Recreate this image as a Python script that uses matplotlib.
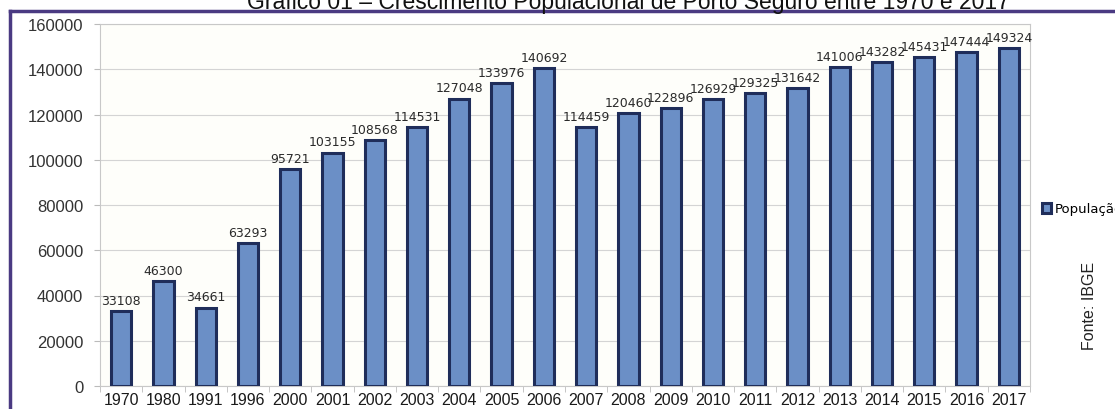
import matplotlib
matplotlib.use("Agg")
import matplotlib.pyplot as plt
from matplotlib.lines import Line2D
from matplotlib.ticker import FixedLocator

anos = ['1970', '1980', '1991', '1996', '2000', '2001', '2002', '2003', '2004',
        '2005', '2006', '2007', '2008', '2009', '2010', '2011', '2012', '2013',
        '2014', '2015', '2016', '2017']
populacao = [33108, 46300, 34661, 63293, 95721, 103155, 108568, 114531, 127048,
             133976, 140692, 114459, 120460, 122896, 126929, 129325, 131642,
             141006, 143282, 145431, 147444, 149324]
y_ticks = [0, 20000, 40000, 60000, 80000, 100000, 120000, 140000, 160000]

W, H = 1115, 410
fig = plt.figure(figsize=(W / 100, H / 100), dpi=100)
fig.patch.set_facecolor('white')

ax = fig.add_axes([100 / W, 1 - 387 / H, 930 / W, 362 / H])
ax.set_facecolor('#fefefa')

x = list(range(len(anos)))
bars = ax.bar(x, populacao, width=0.48, color='#6b8fc6', edgecolor='#1f2d5a',
              linewidth=2.2, label='População', zorder=3)

for xi, v in zip(x, populacao):
    ax.annotate(str(v), (xi, v), xytext=(0, 3), textcoords='offset points',
                ha='center', va='bottom', fontsize=9, color='#2a2a2a',
                family='DejaVu Sans')

ax.set_xlim(-0.5, len(anos) - 0.5)
ax.set_ylim(0, 160000)
ax.set_yticks(y_ticks)
ax.set_yticklabels([str(t) for t in y_ticks], family='Liberation Sans',
                   fontsize=12, color='#333333')
ax.set_xticks(x)
ax.set_xticklabels(anos, family='Liberation Sans', fontsize=11.5, color='#1a1a1a')
ax.xaxis.set_minor_locator(FixedLocator([i + 0.5 for i in range(-1, len(anos))]))
ax.tick_params(axis='x', which='major', length=0, pad=4)
ax.tick_params(axis='x', which='minor', length=4, color='#bbbbbb')
ax.tick_params(axis='y', length=4, color='#bbbbbb', pad=8)

ax.grid(axis='y', color='#d4d4d4', linewidth=0.8, zorder=0)
for s in ax.spines.values():
    s.set_color('#c8c8c8')
    s.set_linewidth(0.8)

fig.legend(handles=[bars], labels=['População'], loc='center left',
           bbox_to_anchor=(1030 / W, 1 - 210 / H), frameon=False,
           handlelength=0.7, handleheight=0.7, handletextpad=0.3,
           prop={'family': 'DejaVu Sans', 'size': 9.5})

fig.text(1090 / W, 1 - 306 / H, 'Fonte: IBGE', rotation=90, ha='center',
         va='center', family='Liberation Sans', fontsize=11.5, color='#222222')

fig.text(628 / W, 1 - 9 / H,
         'Gráfico 01 – Crescimento Populacional de Porto Seguro entre 1970 e 2017',
         ha='center', va='baseline', family='Liberation Sans', fontsize=16.5,
         color='#111111')

# moldura roxa
fig.add_artist(Line2D([10 / W, 1], [1 - 12 / H, 1 - 12 / H], color='#4a3a82',
                      linewidth=2.5, transform=fig.transFigure))
fig.add_artist(Line2D([10 / W, 10 / W], [0, 1 - 12 / H], color='#4a3a82',
                      linewidth=2.5, transform=fig.transFigure))

fig.savefig('out.png', dpi=100)
